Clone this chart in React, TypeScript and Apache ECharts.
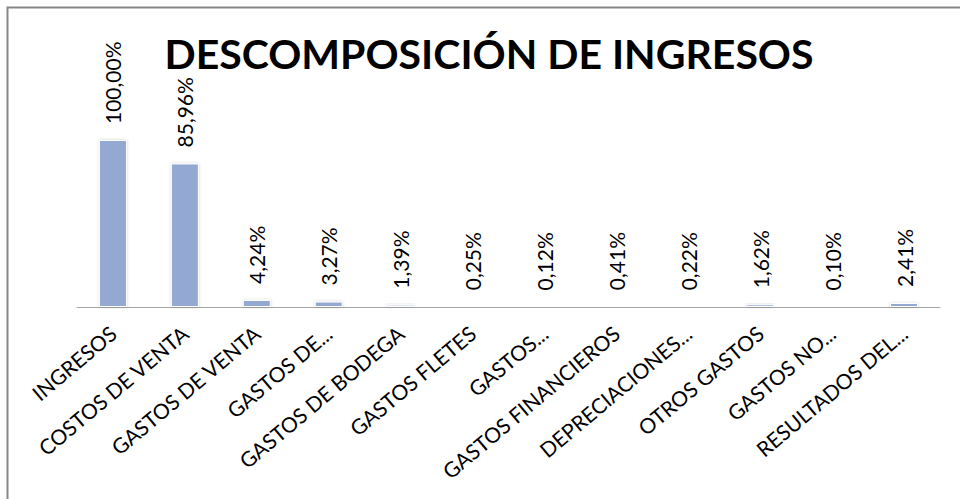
import React, { useEffect, useRef } from "react";
import * as echarts from "echarts";

const categories = [
  "INGRESOS",
  "COSTOS DE VENTA",
  "GASTOS DE VENTA",
  "GASTOS DE...",
  "GASTOS DE BODEGA",
  "GASTOS FLETES",
  "GASTOS...",
  "GASTOS FINANCIEROS",
  "DEPRECIACIONES...",
  "OTROS GASTOS",
  "GASTOS NO...",
  "RESULTADOS DEL...",
];

const values = [100, 85.96, 4.24, 3.27, 1.39, 0.25, 0.12, 0.41, 0.22, 1.62, 0.1, 2.41];

const titleText = "DESCOMPOSICIÓN DE INGRESOS";

export default function App() {
  const ref = useRef<HTMLDivElement>(null);
  useEffect(() => {
    if (!ref.current) return;
    const chart = echarts.init(ref.current, undefined, { renderer: "svg" });
    chart.setOption({
      animation: false,
      backgroundColor: "#ffffff",
      textStyle: { fontFamily: "Lato" },
      title: {
        text: titleText,
        left: 484,
        top: 28,
        textAlign: "center",
        textStyle: { fontFamily: "Lato", fontWeight: "bold", fontSize: 41, color: "#000" },
      },
      graphic: [
        {
          type: "rect",
          shape: { x: 7.5, y: 7.5, width: 1200, height: 1200 },
          style: { fill: "none", stroke: "#878787", lineWidth: 2 },
          silent: true,
        },
      ],
      grid: { left: 77, right: 20, top: 140, bottom: 192, containLabel: false },
      xAxis: {
        type: "category",
        data: categories,
        axisLine: { show: true, lineStyle: { color: "#a6a6a6", width: 1 } },
        axisTick: { show: false },
        axisLabel: {
          rotate: 40,
          interval: 0,
          color: "#000",
          fontFamily: "Lato",
          fontSize: 21,
          margin: 23,
        },
      },
      yAxis: {
        type: "value",
        min: 0,
        max: 100,
        show: false,
        splitLine: { show: false },
      },
      series: [
        {
          type: "bar",
          data: values,
          barWidth: 28,
          itemStyle: {
            color: "#94a9d2",
            borderColor: "#ffffff",
            borderWidth: 1,
            shadowColor: "rgba(0,0,0,0.2)",
            shadowBlur: 3,
          },
          label: {
            show: true,
            position: "top",
            rotate: 90,
            align: "left",
            verticalAlign: "middle",
            distance: 16,
            color: "#000",
            fontFamily: "Lato",
            fontSize: 21,
            formatter: (p: any) => p.value.toFixed(2).replace(".", ",") + "%",
          },
        },
      ],
    });
    return () => chart.dispose();
  }, []);
  return (
    <div
      ref={ref}
      style={{ position: "fixed", left: 0, top: 0, width: 960, height: 499 }}
    />
  );
}
